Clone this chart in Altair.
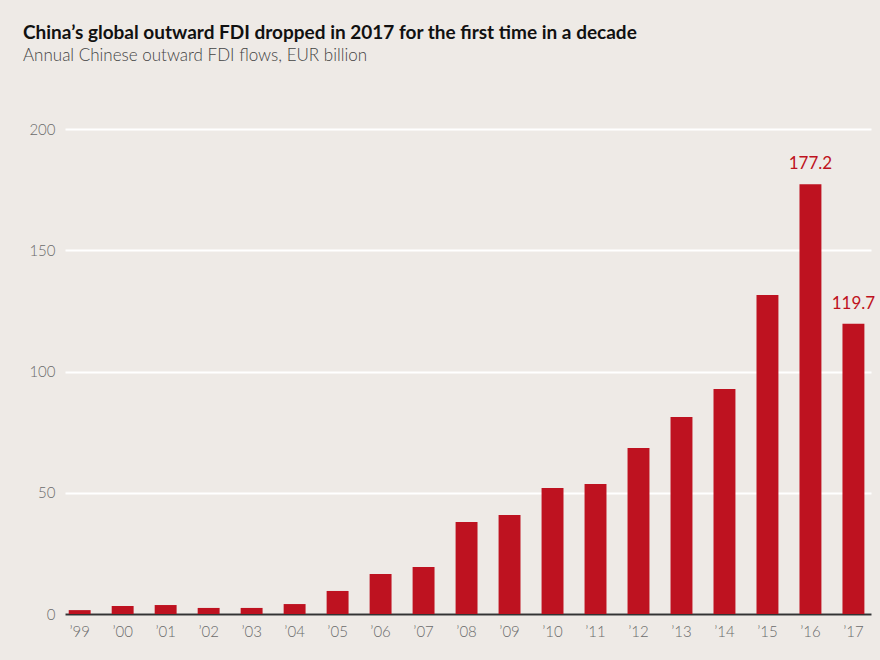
import altair as alt
import pandas as pd

years = ["’99", "’00", "’01", "’02", "’03", "’04", "’05", "’06", "’07", "’08",
         "’09", "’10", "’11", "’12", "’13", "’14", "’15", "’16", "’17"]
values = [1.6, 3.3, 3.7, 2.5, 2.5, 4.1, 9.5, 16.5, 19.4, 37.9,
          40.8, 52.0, 53.6, 68.5, 81.2, 92.8, 131.5, 177.2, 119.7]
labels = ["", "", "", "", "", "", "", "", "", "",
          "", "", "", "", "", "", "", "177.2", "119.7"]

df = pd.DataFrame({"year": years, "value": values, "label": labels})

BG = "#EEEAE6"
RED = "#BE1220"

x = alt.X("year:N", sort=years, title=None,
          scale=alt.Scale(paddingInner=0.49, paddingOuter=0.12, align=0.36),
          axis=alt.Axis(labelAngle=0, ticks=False, domainColor="#333333", domainWidth=2,
                        labelColor="#6b6b6b", labelFontSize=15, labelPadding=10,
                        labelFont="Lato", labelFontWeight=300, grid=False))
y = alt.Y("value:Q", title=None,
          scale=alt.Scale(domain=[0, 200], nice=False),
          axis=alt.Axis(values=[0, 50, 100, 150, 200], ticks=False, domain=False,
                        gridColor="#FFFFFF", gridWidth=2, labelColor="#6b6b6b",
                        labelFontSize=15, labelPadding=10, labelFont="Lato",
                        labelFontWeight=300))

bars = alt.Chart(df).mark_bar(color=RED).encode(x=x, y=y)
text = alt.Chart(df).mark_text(color=RED, fontSize=17, font="Lato", dy=-11,
                               baseline="bottom").encode(
    x=alt.X("year:N", sort=years), y="value:Q", text="label:N")

chart = alt.layer(bars, text).properties(
    width=806, height=485,
    background=BG,
    padding={"left": 65, "top": 129, "right": 9, "bottom": 46},
    autosize=alt.AutoSizeParams(type="none"),
    title=alt.TitleParams(
        "China’s global outward FDI dropped in 2017 for the first time in a decade",
        subtitle="Annual Chinese outward FDI flows, EUR billion",
        anchor="start", frame="group", dx=-42, offset=58,
        font="Lato", fontSize=19, fontWeight="bold", color="#111111",
        subtitleFont="Lato", subtitleFontSize=17, subtitleFontWeight=300,
        subtitleColor="#444444", subtitlePadding=5),
).configure_view(stroke=None, fill=BG)

chart.save("out.html", embed_options={"renderer": "svg", "actions": False})
